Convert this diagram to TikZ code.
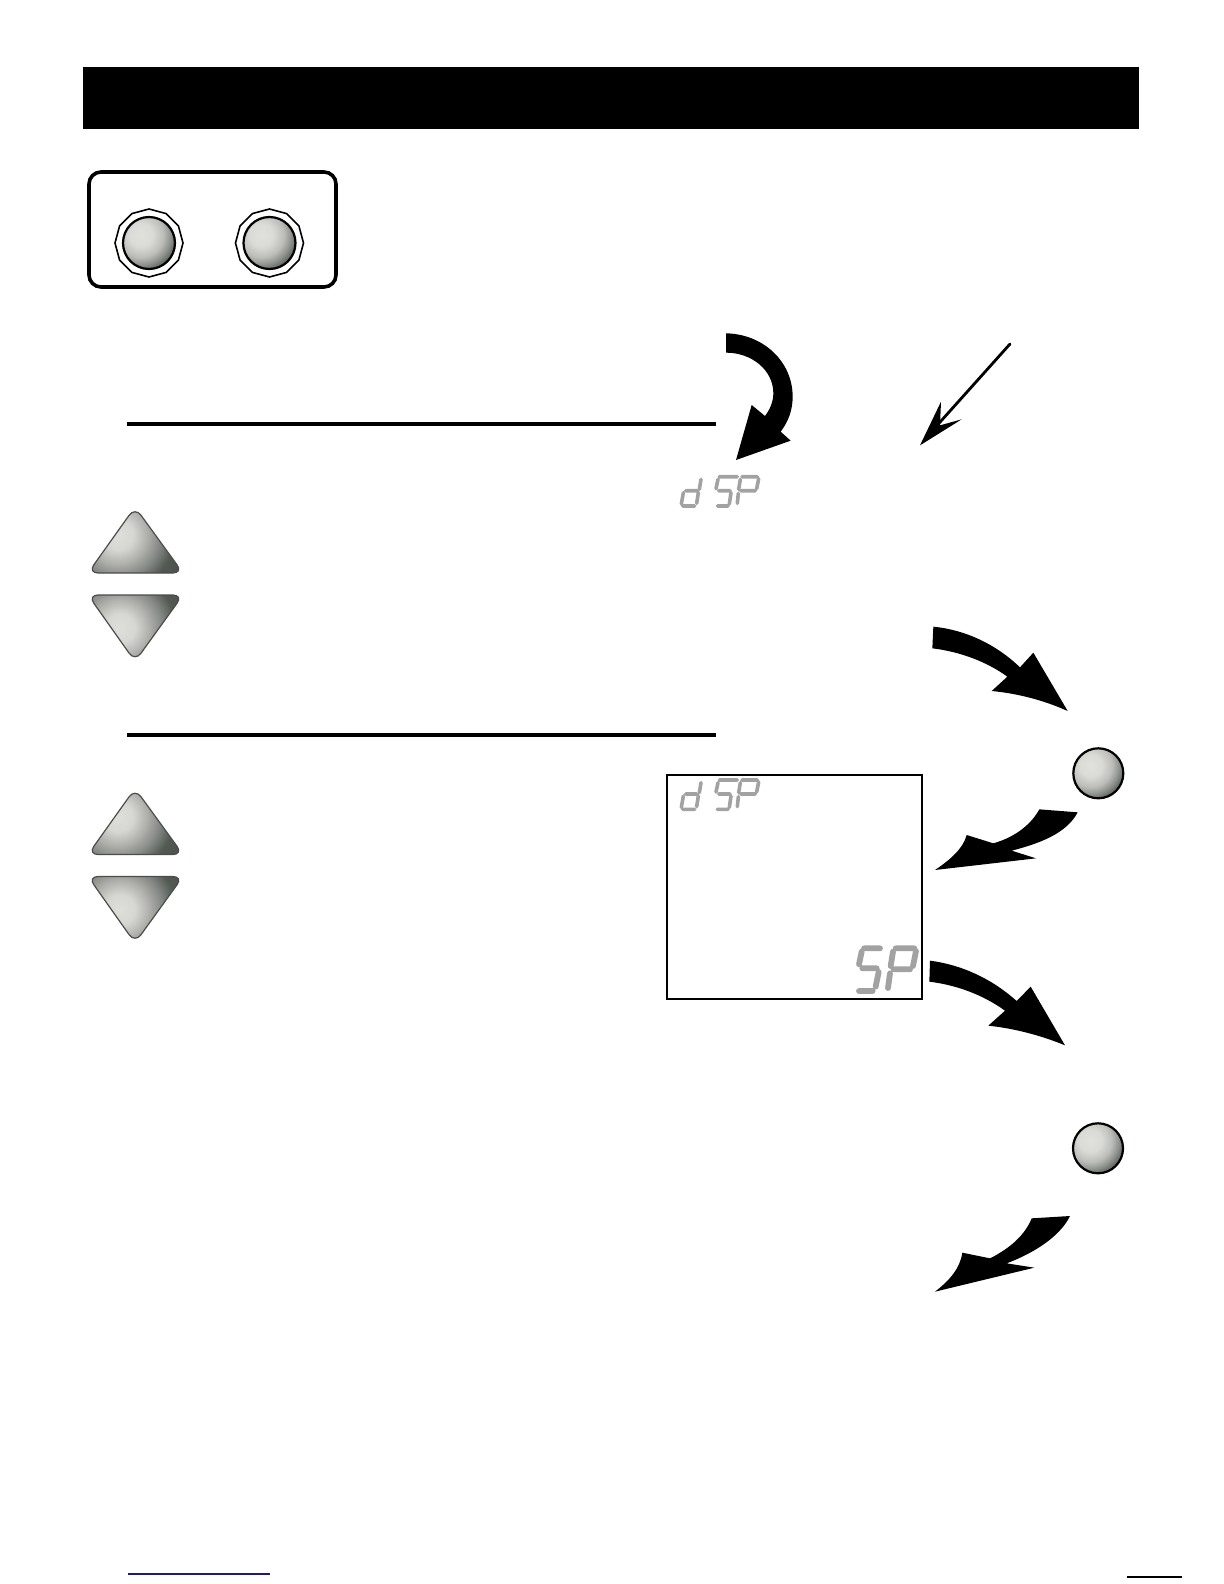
\documentclass[tikz,border=0pt]{standalone}
\definecolor{segGray}{HTML}{A2A2A2}
\definecolor{linkBlue}{HTML}{1A1A80}
\definecolor{kA}{HTML}{E0E0DC}
\definecolor{kB}{HTML}{DADAD6}
\definecolor{kC}{HTML}{BCBCB8}
\definecolor{kD}{HTML}{8C908C}
\definecolor{kE}{HTML}{5A605A}
\definecolor{kF}{HTML}{505650}
\definecolor{bA}{HTML}{DEDEDA}
\definecolor{bB}{HTML}{D6D6D2}
\definecolor{bC}{HTML}{ACACA8}
\definecolor{bD}{HTML}{808480}
\definecolor{bE}{HTML}{525852}
\definecolor{bF}{HTML}{4A504A}
\pgfdeclareradialshading{knobshade}{\pgfpoint{0bp}{0bp}}{
  color(0bp)=(kA); color(7bp)=(kB); color(13.5bp)=(kC); color(18bp)=(kD); color(22bp)=(kE); color(25bp)=(kF); color(50bp)=(kF)}
\pgfdeclareradialshading{btnshade}{\pgfpoint{0bp}{0bp}}{
  color(0bp)=(bA); color(5bp)=(bB); color(10bp)=(bC); color(14.5bp)=(bD); color(18.5bp)=(bE); color(25bp)=(bF); color(50bp)=(bF)}
\tikzset{
  panel/.style={draw=black,line width=1.8pt,rounded corners=6pt,fill=white},
  rulebar/.style={draw=black,line width=1.6pt},
  ring/.style={draw=black,line width=0.8pt,fill=white},
  bigarrow/.style={fill=black,draw=none},
  keybtn/.style={draw=black!70,line width=0.6pt,rounded corners=5pt},
  segsmall/.style={draw=segGray,line width=1.8pt,line cap=round},
  segbig/.style={draw=segGray,line width=2.9pt,line cap=round},
  zoomed/.style={shift={#1},scale=0.33333}
}
\newcommand{\dspword}{%
  \draw[segsmall] (153,68)--(148,98) (145,108)--(140,140) (107,102)--(140,102) (100,108)--(94,142) (98,148)--(134,148);
  \draw[segsmall] (208,60)--(262,60) (204,68)--(198,96) (206,102)--(240,102) (243,108)--(238,142) (202,148)--(234,148);
  \draw[segsmall] (276,60)--(322,60) (271,68)--(266,98) (326,66)--(320,96) (272,102)--(316,102) (265,110)--(262,140);
}
\newcommand{\knobball}[3]{% x, y, r
  \begin{scope}
    \clip (#1,#2) circle[radius=#3];
    \path[shading=knobshade] ({#1-0.31*#3},{#2-0.31*#3}) circle[radius={1.6*#3}];
  \end{scope}
  \draw[black,line width=1.1pt] (#1,#2) circle[radius=#3];
}
\newcommand{\upkey}[1]{% y offset of key
  \begin{scope}
    \clip[rounded corners=5pt] (135,{#1+507}) -- (183,{#1+573}) -- (88,{#1+573}) -- cycle;
    \path[shading=btnshade] (118,{#1+535}) circle[radius=75];
  \end{scope}
  \draw[keybtn] (135,{#1+507}) -- (183,{#1+573}) -- (88,{#1+573}) -- cycle;
}
\newcommand{\downkey}[1]{%
  \begin{scope}
    \clip[rounded corners=5pt] (88,{#1+595}) -- (183,{#1+595}) -- (135,{#1+661.5}) -- cycle;
    \path[shading=btnshade] (120,{#1+628}) circle[radius=75];
  \end{scope}
  \draw[keybtn] (88,{#1+595}) -- (183,{#1+595}) -- (135,{#1+661.5}) -- cycle;
}
\begin{document}
\begin{tikzpicture}[x=0.5pt,y=-0.5pt]
\useasboundingbox (0,0) rectangle (1224,1584);
% title bar
\fill[black] (83,67) rectangle (1139,129);
% key panel
\draw[panel] (89,172) rectangle (336,287);
\foreach \cx in {149,269.5}{
  \draw[ring] (\cx,243) +(90:34) -- +(120:34) -- +(150:34) -- +(180:34) -- +(210:34) -- +(240:34) -- +(270:34) -- +(300:34) -- +(330:34) -- +(0:34) -- +(30:34) -- +(60:34) -- cycle;
  \knobball{\cx}{243}{26}
}
% rules
\draw[rulebar] (127,424) -- (716,424);
\draw[rulebar] (127,735) -- (716,735);
% curved arrow and thin arrow at top
\begin{scope}[zoomed={(650,320)}]
  \fill[bigarrow] (228,40) .. controls (340,42) and (428,125) .. (428,230) .. controls (428,270) and (415,305) .. (392,335) -- (422,362) -- (258,420) -- (305,255) -- (345,288) .. controls (360,268) and (370,245) .. (370,220) .. controls (370,150) and (305,98) .. (228,98) -- cycle;
  \coordinate (thinstart) at (1080,72);
  \coordinate (thinend) at (865,312);
  \draw[line width=1.4pt,line cap=round] (thinstart) -- (thinend);
  \fill[bigarrow] (810,376) -- (873,245) -- (870,316) -- (935,298) -- cycle;
\end{scope}
% segment word above the keys
\begin{scope}[zoomed={(650,456.7)}]
  \dspword
\end{scope}
% key pairs
\upkey{0}
\downkey{0}
\upkey{281.5}
\downkey{281.5}
% display box
\draw[line width=0.8pt,fill=white] (667,775) rectangle (922,999);
\begin{scope}[zoomed={(650,760)}]
  \dspword
  \draw[segbig] (642,565)--(690,565) (635,575)--(627,613) (637,625)--(680,625) (686,636)--(677,680) (627,693)--(668,693);
  \draw[segbig] (737,565)--(793,565) (729,575)--(722,618) (798,573)--(789,618) (731,628)--(780,628) (720,640)--(714,684);
\end{scope}
% upper flow arrows and button
\begin{scope}[zoomed={(900,610)}]
  \fill[bigarrow] (100,50) .. controls (200,60) and (290,105) .. (360,172) -- (400,128) -- (503,303) .. controls (430,270) and (350,250) .. (275,243) -- (322,200) .. controls (260,155) and (180,125) .. (97,115) -- cycle;
  \fill[bigarrow] (418,598) -- (533,607) .. controls (500,670) and (420,700) .. (335,722) -- (408,745) -- (105,780) .. controls (150,750) and (190,715) .. (200,675) -- (280,700) .. controls (350,680) and (395,640) .. (418,598) -- cycle;
\end{scope}
\knobball{1098.3}{773.3}{25}
% lower flow arrows and button
\begin{scope}[zoomed={(900,940)}]
  \fill[bigarrow] (90,62) .. controls (190,75) and (280,120) .. (350,183) -- (392,140) -- (495,316) .. controls (420,285) and (340,265) .. (265,257) -- (315,212) .. controls (250,165) and (170,135) .. (88,125) -- cycle;
  \fill[bigarrow] (395,835) -- (510,828) .. controls (480,890) and (400,940) .. (320,970) -- (403,983) -- (105,1055) .. controls (150,1020) and (180,985) .. (187,938) -- (270,955) .. controls (330,925) and (375,885) .. (395,835) -- cycle;
\end{scope}
\knobball{1098}{1148.3}{25}
% footer rules
\draw[linkBlue,line width=0.7pt] (128,1574) -- (270,1574);
\draw[black,line width=0.9pt] (1127,1577) -- (1182,1577);
\end{tikzpicture}
\end{document}
